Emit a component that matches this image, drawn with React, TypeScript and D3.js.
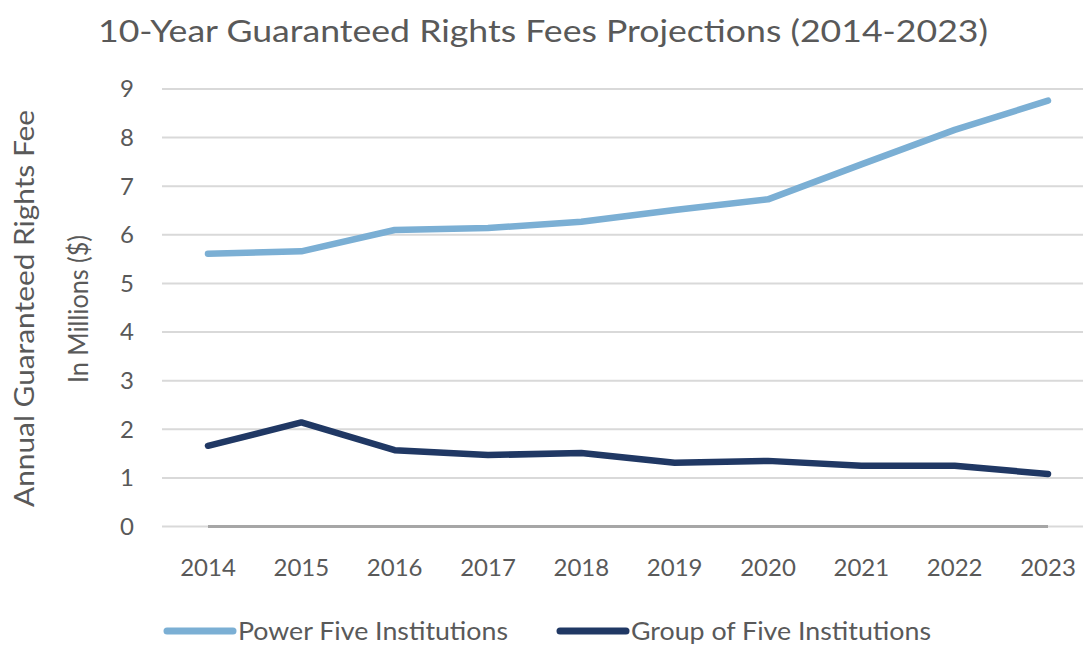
import React from "react";
import * as d3 from "d3";

const years = ["2014","2015","2016","2017","2018","2019","2020","2021","2022","2023"];
const powerFive = [5.61, 5.66, 6.10, 6.14, 6.27, 6.51, 6.73, 7.45, 8.16, 8.76];
const groupFive = [1.66, 2.14, 1.57, 1.47, 1.51, 1.31, 1.35, 1.25, 1.25, 1.08];
const yTicks = [0, 1, 2, 3, 4, 5, 6, 7, 8, 9];
const seriesNames = ["Power Five Institutions", "Group of Five Institutions"];
const seriesColors = ["#7BAFD4", "#203864"];

const W = 1083, H = 645;
const FONT = "Lato, 'Open Sans', sans-serif";
const TEXT = "#595959";

export default function App() {
  const x = d3.scalePoint<string>().domain(years).range([208, 1048]);
  const y = d3.scaleLinear().domain([0, 9]).range([526.5, 89]);
  const line = d3.line<number>().x((_, i) => x(years[i])!).y(d => y(d));
  const series = [powerFive, groupFive];
  const legendX = [167, 560];
  const legendLen = [270, 300];

  return (
    <svg width={W} height={H} style={{ position: "absolute", left: 0, top: 0, background: "#fff" }} fontFamily={FONT}>
      <text x={543} y={42} textAnchor="middle" fontSize={31} fill={TEXT} textLength={890} lengthAdjust="spacingAndGlyphs">
        10-Year Guaranteed Rights Fees Projections (2014-2023)
      </text>
      {yTicks.map(t => (
        <g key={t}>
          <line x1={162} x2={1083} y1={y(t)} y2={y(t)} stroke="#D9D9D9" strokeWidth={2} />
          <text x={134} y={y(t)} dy="0.35em" textAnchor="end" fontSize={24} fill={TEXT}>{t}</text>
        </g>
      ))}
      <line x1={x(years[0])} x2={x(years[years.length - 1])} y1={y(0)} y2={y(0)} stroke="#A6A6A6" strokeWidth={3} />
      {years.map(yr => (
        <text key={yr} x={x(yr)} y={576} textAnchor="middle" fontSize={24} fill={TEXT}>{yr}</text>
      ))}
      <g transform="translate(25,308.5) rotate(-90)">
        <text x={0} y={0} dy="0.35em" textAnchor="middle" fontSize={26} fill={TEXT} textLength={397} lengthAdjust="spacingAndGlyphs">Annual Guaranteed Rights Fee</text>
      </g>
      <g transform="translate(79,309) rotate(-90)">
        <text x={0} y={0} dy="0.35em" textAnchor="middle" fontSize={26} fill={TEXT} textLength={148} lengthAdjust="spacingAndGlyphs">In Millions ($)</text>
      </g>
      {series.map((s, i) => (
        <path key={i} d={line(s)!} fill="none" stroke={seriesColors[i]} strokeWidth={6.5} strokeLinecap="round" strokeLinejoin="round" />
      ))}
      {seriesNames.map((n, i) => (
        <g key={n}>
          <line x1={legendX[i]} x2={legendX[i] + 66} y1={631} y2={631} stroke={seriesColors[i]} strokeWidth={7} strokeLinecap="round" />
          <text x={legendX[i] + 71} y={631} dy="0.35em" fontSize={25} fill={TEXT} textLength={legendLen[i]} lengthAdjust="spacingAndGlyphs">{n}</text>
        </g>
      ))}
    </svg>
  );
}
